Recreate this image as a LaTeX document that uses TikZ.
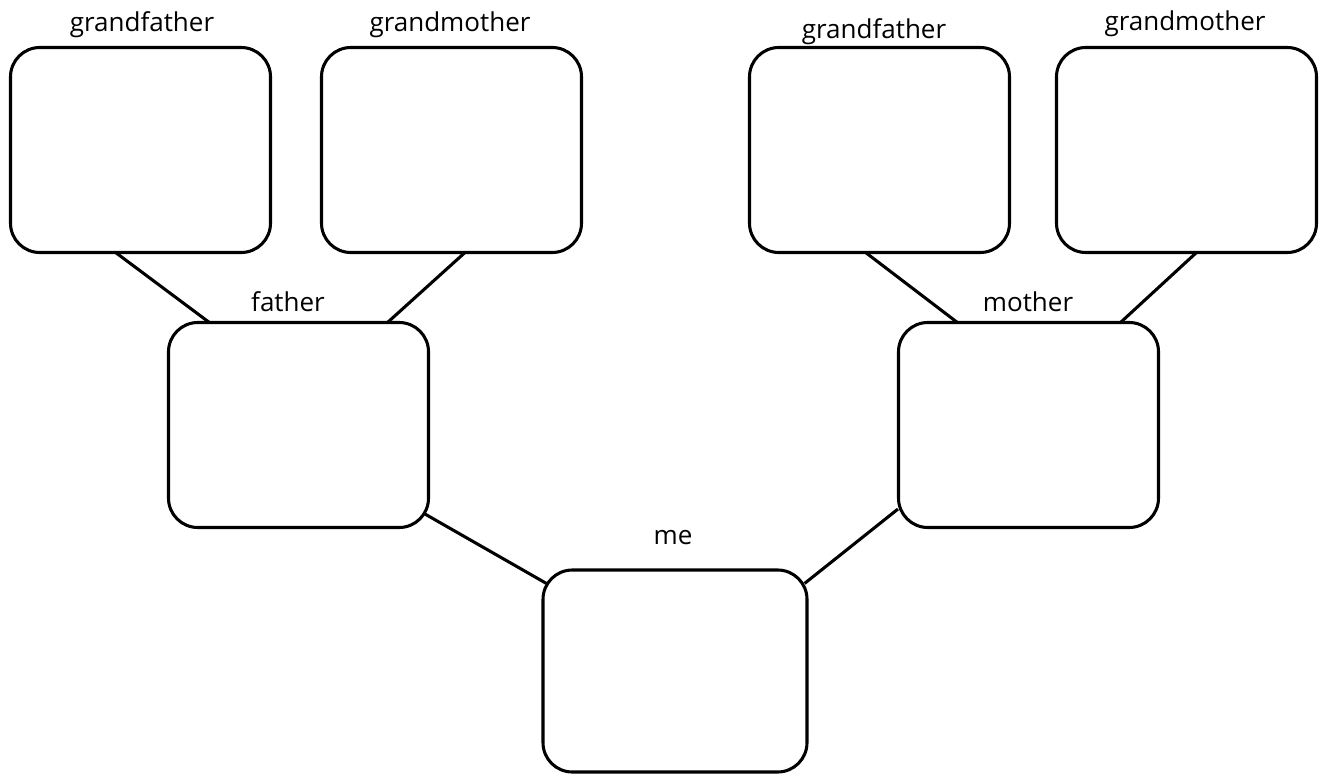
\documentclass[tikz,border=0pt]{standalone}
\usepackage{fontspec}
\setmainfont{Open Sans}
\usetikzlibrary{backgrounds}

\begin{document}
\begin{tikzpicture}[x=0.75pt,y=0.75pt,yscale=-1,xscale=1,
	box/.style={draw, fill=white, line width=2.3pt, rounded corners=22pt, minimum width=195pt, minimum height=153.75pt, inner sep=0pt},
	lbl/.style={inner sep=0.75pt, font=\fontsize{19.5}{22}\selectfont},
	link/.style={line width=2.3pt}]
	\useasboundingbox (0,0) rectangle (1321,774);
	
	%Shape: Rounded Rect [grandparents, father side]
	\node (gfA) at (140.5,150) [box] {};
	\node (gmA) at (451.5,150) [box] {};
	%Shape: Rounded Rect [grandparents, mother side]
	\node (gfB) at (879.5,150) [box] {};
	\node (gmB) at (1186.5,150) [box] {};
	%Shape: Rounded Rect [parents]
	\node (fa) at (298.5,425) [box] {};
	\node (mo) at (1028.5,425) [box] {};
	%Shape: Rounded Rect [me]
	\node (me) at (675,671) [box, minimum width=198pt, minimum height=151.5pt] {};
	
	% Straight Lines
	\begin{pgfonlayer}{background}
	\draw [link] ([shift={(-25.5,-2)}]gfA.south) -- ([shift={(-88.5,2)}]fa.north) ;
	\draw [link] ([shift={(14,-2)}]gmA.south) -- ([shift={(88.5,2)}]fa.north) ;
	\draw [link] ([shift={(-14.5,-2)}]gfB.south) -- ([shift={(-70.5,2)}]mo.north) ;
	\draw [link] ([shift={(10.5,-2)}]gmB.south) -- ([shift={(91.5,2)}]mo.north) ;
	\draw [link] ([shift={(-5,-15)}]fa.south east) -- ([shift={(5,15)}]me.north west) ;
	\draw [link] ([shift={(1,-20)}]mo.south west) -- ([shift={(-4,15)}]me.north east) ;
	\end{pgfonlayer}
	
	% Text Node
	\node (lgfA) at (142,25) [lbl] {grandfather};
	% Text Node
	\node (lgmA) at (450,25) [lbl] {grandmother};
	% Text Node
	\node (lgfB) at (874,32) [lbl] {grandfather};
	% Text Node
	\node (lgmB) at (1185,24) [lbl] {grandmother};
	% Text Node
	\node (lfa) at (288,302) [lbl] {father};
	% Text Node
	\node (lmo) at (1028,302) [lbl] {mother};
	% Text Node
	\node (lme) at (673,538) [lbl] {me};
	
\end{tikzpicture}
\end{document}
